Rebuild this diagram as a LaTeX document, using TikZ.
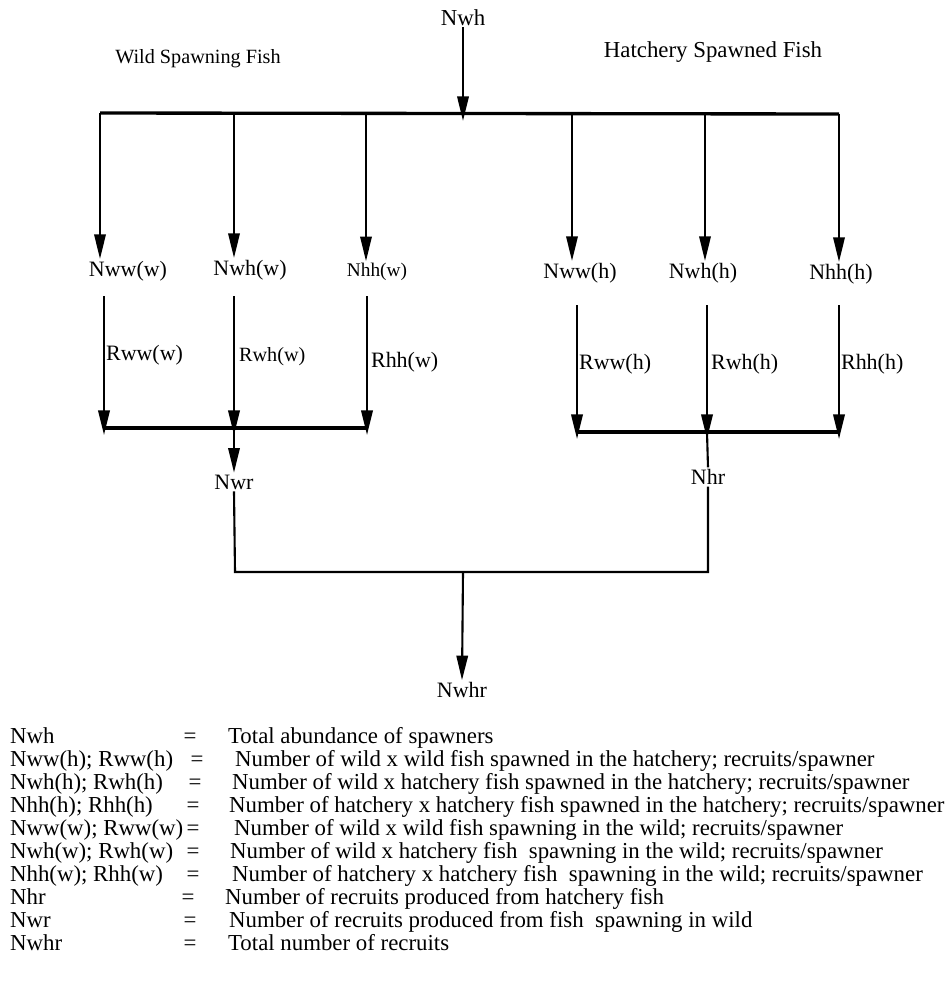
\documentclass[tikz,border=0pt]{standalone}
\usepackage{fontspec}
\setmainfont{Liberation Serif}
\usetikzlibrary{arrows.meta}

\begin{document}
\begin{tikzpicture}[x=0.02cm,y=-0.02cm]
\tikzstyle{every node}=[font=\fontsize{12.5}{15}\selectfont, inner sep=1pt]
\tikzstyle{flow}=[line width=1.2pt, -{Triangle[length=14pt,width=6.5pt]}]
\tikzstyle{bar}=[line width=1.9pt]
\tikzstyle{link}=[line width=1.2pt]
\tikzstyle{leg}=[anchor=base west, font=\fontsize{13}{15}\selectfont]
\tikzstyle{eq}=[anchor=base, font=\fontsize{13}{15}\selectfont]
\useasboundingbox (0,0) rectangle (951,981);
% top
\node (nwh) [anchor=base, font=\fontsize{13}{15}\selectfont] at (463,25) {Nwh};
\node (wildlbl) [anchor=base, font=\fontsize{11.5}{13}\selectfont] at (198,63) {Wild Spawning Fish};
\node (hatchlbl) [anchor=base, font=\fontsize{13}{15}\selectfont] at (713,57) {Hatchery Spawned Fish};
\coordinate (tl) at (100,113);
\coordinate (tr) at (839,114);
\coordinate (tm) at (463,121);
\draw [bar] (tl) -- (tr);
\draw [flow] (nwh) -- (tm);
% spawner groups
\node (nwwW) at (128,271) {Nww(w)};
\node (nwhW) at (250,270) {Nwh(w)};
\node (nhhW) [font=\fontsize{11}{13}\selectfont] at (377,272) {Nhh(w)};
\node (nwwH) at (580,273) {Nww(h)};
\node (nwhH) at (703,273) {Nwh(h)};
\node (nhhH) at (841,274) {Nhh(h)};
\coordinate (b1) at (100,113);
\coordinate (b2) at (234,113);
\coordinate (b3) at (366,113);
\coordinate (b4) at (572,114);
\coordinate (b5) at (705,114);
\coordinate (b6) at (839,114);
\draw [flow] (b1) -- (b1 |- nwwW.north);
\draw [flow] (b2) -- (b2 |- nwhW.north);
\draw [flow] (b3) -- (b3 |- nhhW.north);
\draw [flow] (b4) -- (b4 |- nwwH.north);
\draw [flow] (b5) -- (b5 |- nwhH.north);
\draw [flow] (b6) -- (b6 |- nhhH.north);
% recruits, wild side
\coordinate (w1) at (104,296);
\coordinate (w2) at (234,296);
\coordinate (w3) at (367,296);
\coordinate (wl) at (104,428);
\coordinate (wm) at (234,428);
\coordinate (wr) at (367,428);
\draw [flow] (w1) -- ([yshift=-4pt]wl);
\draw [flow] (w2) -- ([yshift=-4pt]wm);
\draw [flow] (w3) -- ([yshift=-4pt]wr);
\draw [bar] (wl) -- (wr);
\node (rwwW) [anchor=west] at (104,355) {Rww(w)};
\node (rwhW) [anchor=west, font=\fontsize{11.5}{13}\selectfont] at (237,357) {Rwh(w)};
\node (rhhW) [anchor=west] at (369,362) {Rhh(w)};
\node (nwr) at (234,482) {Nwr};
\draw [flow] (wm) -- (nwr.north);
% recruits, hatchery side
\coordinate (h1) at (577,305);
\coordinate (h2) at (707,305);
\coordinate (h3) at (839,305);
\coordinate (hl) at (577,432);
\coordinate (hm) at (707,432);
\coordinate (hr) at (839,432);
\draw [flow] (h1) -- ([yshift=-4pt]hl);
\draw [flow] (h2) -- ([yshift=-4pt]hm);
\draw [flow] (h3) -- ([yshift=-4pt]hr);
\draw [bar] (hl) -- (hr);
\node (rwwH) [anchor=west] at (577,364) {Rww(h)};
\node (rwhH) [anchor=west] at (709,364) {Rwh(h)};
\node (rhhH) [anchor=west] at (839,364) {Rhh(h)};
\node (nhr) at (708,477) {Nhr};
\draw [link] (hm) -- (nhr.north);
% total
\coordinate (jl) at (235,572);
\coordinate (jr) at (708,572);
\coordinate (jm) at (463,572);
\node (nwhr) at (462,690) {Nwhr};
\draw [link] (nwr.south) -- (jl) -- (jr) -- (nhr.south);
\draw [flow] (jm) -- (nwhr.north);
% legend
\node (k1) [leg] at (8,743) {Nwh};
\node (k2) [leg] at (8,766) {Nww(h); Rww(h)};
\node (k3) [leg] at (8,789) {Nwh(h); Rwh(h)};
\node (k4) [leg] at (8,812) {Nhh(h); Rhh(h)};
\node (k5) [leg] at (8,835) {Nww(w); Rww(w)};
\node (k6) [leg] at (8,858) {Nwh(w); Rwh(w)};
\node (k7) [leg] at (8,881) {Nhh(w); Rhh(w)};
\node (k8) [leg] at (8,904) {Nhr};
\node (k9) [leg] at (8,927) {Nwr};
\node (k10) [leg] at (8,950) {Nwhr};
\node (e1) [eq] at (190,743) {=};
\node (e2) [eq] at (197,766) {=};
\node (e3) [eq] at (195,789) {=};
\node (e4) [eq] at (193,812) {=};
\node (e5) [eq] at (193,835) {=};
\node (e6) [eq] at (193,858) {=};
\node (e7) [eq] at (193,881) {=};
\node (e8) [eq] at (188,904) {=};
\node (e9) [eq] at (190,927) {=};
\node (e10) [eq] at (190,950) {=};
\node (d1) [leg] at (226,743) {Total abundance of spawners};
\node (d2) [leg] at (233,766) {Number of wild x wild fish spawned in the hatchery; recruits/spawner};
\node (d3) [leg] at (230,789) {Number of wild x hatchery fish spawned in the hatchery; recruits/spawner};
\node (d4) [leg] at (227,812) {Number of hatchery x hatchery fish spawned in the hatchery; recruits/spawner};
\node (d5) [leg] at (232,835) {Number of wild x wild fish spawning in the wild; recruits/spawner};
\node (d6) [leg] at (228,858) {Number of wild x hatchery fish\ \ spawning in the wild; recruits/spawner};
\node (d7) [leg] at (230,881) {Number of hatchery x hatchery fish\ \ spawning in the wild; recruits/spawner};
\node (d8) [leg] at (223,904) {Number of recruits produced from hatchery fish};
\node (d9) [leg] at (227,927) {Number of recruits produced from fish\ \ spawning in wild};
\node (d10) [leg] at (226,950) {Total number of recruits};
\end{tikzpicture}
\end{document}
